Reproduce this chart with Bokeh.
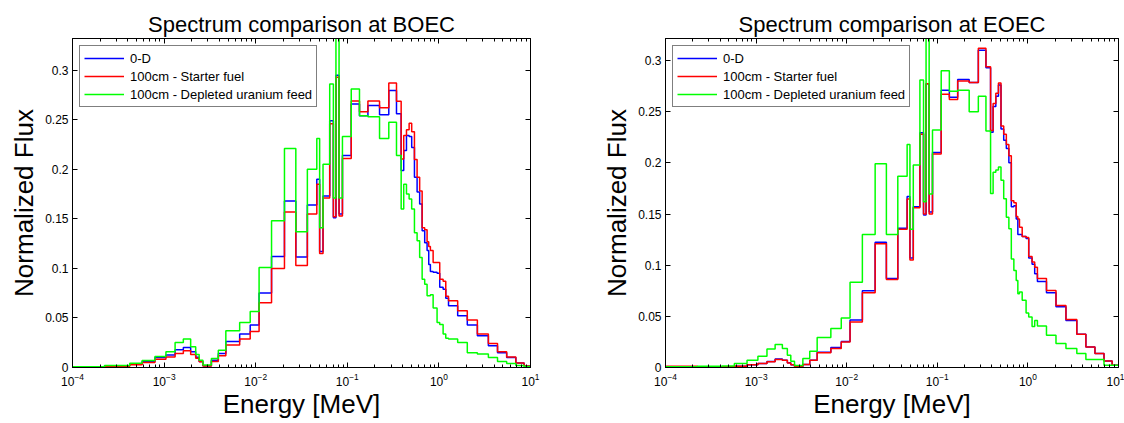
from bokeh.plotting import figure
from bokeh.layouts import row
from bokeh.models import (Range1d, FixedTicker, LogAxis, LinearAxis,
                          CustomJSTickFormatter, LogTickFormatter)
from bokeh.embed import file_html
from bokeh.resources import INLINE

# ---------------- data ----------------
# common energy group boundaries, log10(E / MeV)
edge_log10 = [-4.0, -3.65, -3.375, -3.24, -3.10, -2.98, -2.88, -2.79, -2.71, -2.655,
              -2.617, -2.576, -2.484, -2.408, -2.326, -2.175, -2.06, -1.963, -1.827, -1.686,
              -1.562, -1.436, -1.333, -1.302, -1.265, -1.192, -1.152, -1.124, -1.09, -1.053,
              -0.957, -0.867, -0.775, -0.648, -0.547, -0.463, -0.412, -0.384, -0.354, -0.325,
              -0.297, -0.267, -0.238, -0.21, -0.183, -0.155, -0.129, -0.111, -0.093, -0.063,
              -0.020, 0.009, 0.046, 0.075, 0.105, 0.205, 0.31, 0.42, 0.54, 0.64,
              0.74, 0.84, 0.93, 1.0]

boec_0d = [0.0006, 0.0017, 0.0033, 0.006, 0.010, 0.0125, 0.0179, 0.0202, 0.016, 0.0104,
           0.006, 0.0017, 0.0074, 0.0141, 0.0263, 0.0337, 0.0428, 0.0753, 0.112, 0.168,
           0.1115, 0.164, 0.190, 0.117, 0.173, 0.249, 0.151, 0.295, 0.155, 0.214,
           0.266, 0.254, 0.2643, 0.255, 0.2795, 0.256, 0.1987, 0.219, 0.234, 0.233,
           0.222, 0.192, 0.177, 0.165, 0.138, 0.126, 0.118, 0.104, 0.097, 0.096,
           0.095, 0.081, 0.079, 0.070, 0.0623, 0.0522, 0.043, 0.032, 0.0219, 0.015,
           0.010, 0.0045, 0.0015]
boec_starter = [0.0005, 0.0013, 0.0027, 0.005, 0.0084, 0.0105, 0.0141, 0.0168, 0.013, 0.0094,
                0.0057, 0.0014, 0.006, 0.0118, 0.0226, 0.0287, 0.0364, 0.0653, 0.0998, 0.157,
                0.103, 0.155, 0.185, 0.115, 0.171, 0.246, 0.152, 0.293, 0.153, 0.211,
                0.269, 0.258, 0.269, 0.262, 0.287, 0.2687, 0.2105, 0.234, 0.240, 0.2465,
                0.238, 0.210, 0.192, 0.178, 0.141, 0.139, 0.127, 0.122, 0.118, 0.106,
                0.106, 0.089, 0.087, 0.072, 0.0674, 0.0573, 0.048, 0.0337, 0.0242, 0.016,
                0.0105, 0.0045, 0.0015]
boec_du = [0.0008, 0.002, 0.0044, 0.007, 0.011, 0.016, 0.0253, 0.0287, 0.021, 0.013,
           0.0074, 0.0024, 0.009, 0.0175, 0.037, 0.0455, 0.0566, 0.101, 0.148, 0.221,
           0.137, 0.200, 0.231, 0.141, 0.205, 0.286, 0.171, 0.36, 0.171, 0.233,
           0.281, 0.254, 0.253, 0.231, 0.2475, 0.214, 0.160, 0.185, 0.175, 0.170,
           0.160, 0.136, 0.128, 0.111, 0.089, 0.084, 0.0724, 0.0724, 0.0735, 0.060,
           0.0455, 0.0434, 0.0337, 0.0295, 0.0287, 0.0253, 0.015, 0.0135, 0.010, 0.006,
           0.004, 0.002, 0.001]

eoec_0d = [0.0008, 0.0005, 0.0008, 0.0013, 0.0026, 0.004, 0.0058, 0.0082, 0.0072, 0.0046,
           0.0026, 0.001, 0.003, 0.0072, 0.015, 0.0195, 0.0255, 0.0465, 0.075, 0.1225,
           0.087, 0.136, 0.167, 0.107, 0.157, 0.2295, 0.149, 0.2774, 0.152, 0.21,
           0.271, 0.264, 0.2815, 0.2785, 0.310, 0.293, 0.230, 0.255, 0.265, 0.276,
           0.233, 0.222, 0.214, 0.200, 0.157, 0.158, 0.145, 0.13, 0.130, 0.128,
           0.126, 0.107, 0.101, 0.0916, 0.084, 0.073, 0.0593, 0.046, 0.0325, 0.0201,
           0.0136, 0.0064, 0.0022]
eoec_starter = [0.0012, 0.0005, 0.0008, 0.0013, 0.0026, 0.0039, 0.0055, 0.0078, 0.007, 0.0045,
                0.0026, 0.001, 0.003, 0.007, 0.0143, 0.0185, 0.025, 0.0445, 0.073, 0.121,
                0.086, 0.135, 0.1647, 0.105, 0.156, 0.228, 0.150, 0.2774, 0.150, 0.2086,
                0.267, 0.262, 0.280, 0.2785, 0.312, 0.294, 0.2316, 0.258, 0.268, 0.278,
                0.236, 0.228, 0.218, 0.207, 0.163, 0.161, 0.1475, 0.145, 0.137, 0.128,
                0.127, 0.1085, 0.103, 0.098, 0.087, 0.0753, 0.0607, 0.0468, 0.0325, 0.0201,
                0.0136, 0.0064, 0.0022]
eoec_du = [0.0007, 0.0012, 0.0015, 0.0039, 0.0071, 0.011, 0.018, 0.0224, 0.0185, 0.012,
           0.0061, 0.002, 0.0088, 0.0159, 0.0292, 0.038, 0.0484, 0.0834, 0.130, 0.199,
           0.130, 0.1868, 0.218, 0.135, 0.198, 0.281, 0.162, 0.36, 0.1696, 0.232,
           0.290, 0.270, 0.271, 0.250, 0.265, 0.231, 0.170, 0.1907, 0.193, 0.196,
           0.183, 0.165, 0.1468, 0.1355, 0.106, 0.0948, 0.085, 0.072, 0.0737, 0.0656,
           0.0532, 0.0493, 0.040, 0.046, 0.0405, 0.0315, 0.0234, 0.0185, 0.0136, 0.0078,
           0.0078, 0.0022, 0.0022]

series_labels = ["0-D", "100cm - Starter fuel", "100cm - Depleted uranium feed"]
series_colors = ["#0000ff", "#ff0000", "#00ff00"]
x_tick_values = [1e-4, 1e-3, 1e-2, 1e-1, 1e0, 1e1]
y_tick_values = [0, 0.05, 0.1, 0.15, 0.2, 0.25, 0.3]

FONT = "Liberation Sans"
edges_mev = [10 ** e for e in edge_log10]
minor_x = [k * 10 ** d for d in range(-4, 1) for k in range(2, 10)]


def style_axis(ax, labels=True):
    ax.axis_line_color = "black"
    ax.major_tick_line_color = "black"
    ax.minor_tick_line_color = "black"
    ax.major_tick_in = 5
    ax.major_tick_out = 0
    ax.minor_tick_in = 3
    ax.minor_tick_out = 0
    ax.major_label_text_font = FONT
    ax.major_label_text_color = "black"
    ax.major_label_text_font_size = "12px"
    if labels:
        ax.major_label_standoff = 4
    else:
        ax.formatter = CustomJSTickFormatter(code="return '';")
        ax.major_label_text_font_size = "11px"
        ax.major_label_standoff = 0


def make_panel(title, ymax, data, width, height, border_left, border_right):
    p = figure(width=width, height=height, x_axis_type="log",
               x_range=Range1d(1e-4, 10), y_range=Range1d(0, ymax),
               output_backend="svg", toolbar_location=None,
               min_border_left=border_left, min_border_right=border_right,
               min_border_top=38, min_border_bottom=55)
    p.title.text = title
    p.title.align = "center"
    p.title.text_font = FONT
    p.title.text_font_size = "22px"
    p.title.text_font_style = "normal"
    p.title.text_color = "black"
    p.title.standoff = 4
    p.grid.visible = False
    p.outline_line_color = "black"
    p.background_fill_color = "white"
    p.border_fill_color = "white"

    xt = FixedTicker(ticks=x_tick_values, minor_ticks=minor_x)
    yt = FixedTicker(ticks=y_tick_values)
    yfmt = CustomJSTickFormatter(code="return (Math.round(tick*100)/100).toString();")

    xa = p.xaxis[0]
    xa.ticker = xt
    xa.formatter = LogTickFormatter()
    xa.axis_label = "Energy [MeV]"
    ya = p.yaxis[0]
    ya.ticker = yt
    ya.formatter = yfmt
    ya.axis_label = "Normalized Flux"
    for ax in (xa, ya):
        style_axis(ax)
        ax.axis_label_text_font = FONT
        ax.axis_label_text_font_size = "26px"
        ax.axis_label_text_font_style = "normal"
        ax.axis_label_text_color = "black"
    xa.axis_label_standoff = 0
    xa.major_label_standoff = 5
    ya.axis_label_standoff = 3
    ya.major_label_standoff = 4
    ya.minor_tick_line_color = None

    top = LogAxis(ticker=xt)
    style_axis(top, labels=False)
    p.add_layout(top, "above")
    right = LinearAxis(ticker=yt)
    style_axis(right, labels=False)
    right.minor_tick_line_color = None
    p.add_layout(right, "right")

    for vals, lab, col in zip(data, series_labels, series_colors):
        p.step(x=edges_mev, y=list(vals) + [vals[-1]], mode="after",
               line_color=col, line_width=1.5, legend_label=lab)

    lg = p.legend[0]
    lg.location = "top_left"
    lg.margin = 7
    lg.padding = 4
    lg.spacing = 2
    lg.label_height = 16
    lg.glyph_height = 16
    lg.glyph_width = 40
    lg.label_standoff = 6
    lg.label_text_font = FONT
    lg.label_text_font_size = "13px"
    lg.label_text_color = "black"
    lg.border_line_color = "black"
    lg.border_line_width = 1
    lg.background_fill_color = "white"
    lg.background_fill_alpha = 1.0
    return p


p1 = make_panel("Spectrum comparison at BOEC", 0.332,
                [boec_0d, boec_starter, boec_du], 550, 422, 72, 20)
p2 = make_panel("Spectrum comparison at EOEC", 0.3215,
                [eoec_0d, eoec_starter, eoec_du], 574, 422, 115, 6)

layout = row(p1, p2, spacing=0)
open("out.html", "w").write(file_html(layout, INLINE, title="Spectrum comparison"))
